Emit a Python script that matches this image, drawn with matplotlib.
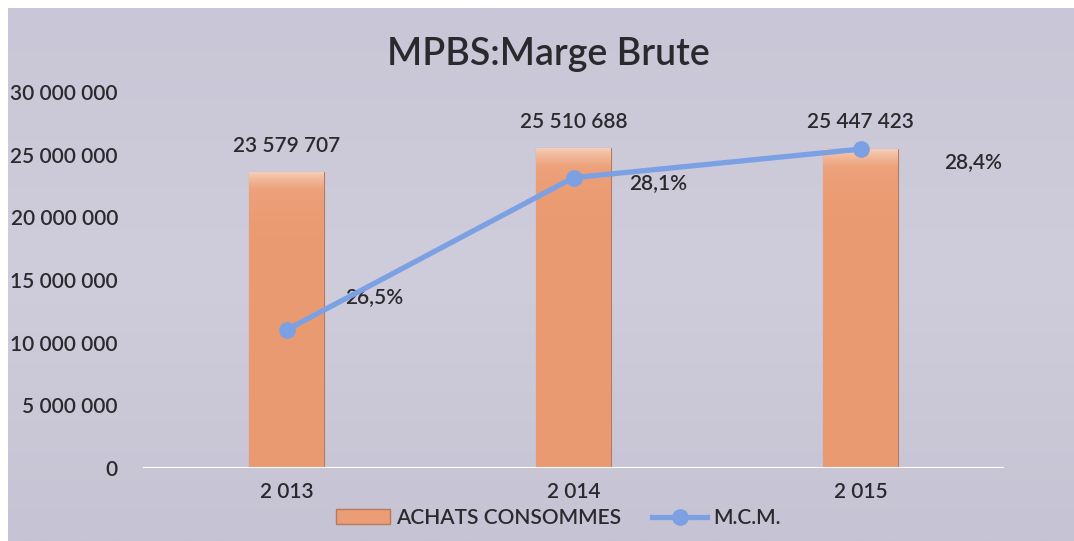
import matplotlib
matplotlib.use("Agg")
import matplotlib.pyplot as plt
import numpy as np
from matplotlib.ticker import FuncFormatter
from matplotlib.colors import LinearSegmentedColormap
from matplotlib.lines import Line2D
from matplotlib.patches import Patch

years = ["2 013", "2 014", "2 015"]
achats = [23579707, 25510688, 25447423]
achats_labels = ["23 579 707", "25 510 688", "25 447 423"]
mcm = [26.5, 28.1, 28.4]
mcm_labels = ["26,5%", "28,1%", "28,4%"]
yticks = [0, 5000000, 10000000, 15000000, 20000000, 25000000, 30000000]

plt.rcParams['font.family'] = ['Lato', 'DejaVu Sans']
plt.rcParams['font.weight'] = 'semibold'
TXT = '#2a2a2e'
W, H = 1074, 541
fig = plt.figure(figsize=(W/100, H/100), dpi=100, facecolor='white')

# chart background
bg = fig.add_axes([8/W, 0, 1 - 8/W, 1 - 8/H])
grad = np.linspace(0, 1, 256).reshape(-1, 1)
cmap_bg = LinearSegmentedColormap.from_list('bg', ['#c9c6d7', '#cfcddb', '#c6c3d4'])
bg.imshow(grad, aspect='auto', cmap=cmap_bg, extent=[0, 1, 0, 1])
bg.set_axis_off()

ax_l, ax_r = 143, 1004
ax_b, ax_t = 468, 92
ax = fig.add_axes([ax_l/W, 1 - ax_b/H, (ax_r-ax_l)/W, (ax_b-ax_t)/H])
ax.patch.set_alpha(0)
x = np.arange(len(years))
bars = ax.bar(x, achats, width=0.26, color='#eb9e76', edgecolor='#b87a5c', linewidth=0.8, zorder=2)
cmap_bar = LinearSegmentedColormap.from_list('bar', ['#ea9a70', '#eda27c', '#f5cdb5'])
for b in bars:
    bx, by = b.get_x(), b.get_y()
    bw, bh = b.get_width(), b.get_height()
    im = ax.imshow(np.linspace(0, 1, 200).reshape(-1, 1)[::-1] ** 12, aspect='auto', cmap=cmap_bar,
                   extent=[bx, bx + bw, by, by + bh], origin='upper', zorder=2.1)
    im.set_clip_path(b)
ax.set_xlim(-0.5, 2.5)
ax.set_ylim(0, 30000000)
ax.set_yticks(yticks)
ax.yaxis.set_major_formatter(FuncFormatter(lambda v, p: f"{int(v):,}".replace(",", " ")))
ax.set_xticks(x)
ax.set_xticklabels(years)
ax.tick_params(axis='both', length=0, labelsize=15, colors=TXT, pad=10)
ax.tick_params(axis='y', pad=18)
for s in ax.spines.values():
    s.set_visible(False)
ax.axhline(0, color='white', linewidth=1.5, zorder=3)
for xi, v, lab in zip(x, achats, achats_labels):
    ax.annotate(lab, (xi, v), xytext=(0, 12), textcoords='offset points', ha='center', va='bottom',
                fontsize=15, color=TXT)

ax2 = ax.twinx()
ax2.set_ylim(25.05, 29.0)
ax2.set_axis_off()
ax2.plot(x, mcm, color='#7ba0e4', linewidth=3.8, marker='o', markersize=11, zorder=4)
offsets = [(42, 24), (40, -4), (60, -9)]
for xi, v, lab, off in zip(x, mcm, mcm_labels, offsets):
    ax2.annotate(lab, (xi, v), xytext=off, textcoords='offset points', ha='left', va='center',
                 fontsize=15, color=TXT)

fig.text(548/W, 1 - 55/H, "MPBS:Marge Brute", ha='center', va='center', fontsize=27, color=TXT)

handles = [Patch(facecolor='#eb9e76', edgecolor='#b87a5c'),
           Line2D([0], [0], color='#7ba0e4', linewidth=3.8, marker='o', markersize=11)]
fig.legend(handles, ["ACHATS CONSOMMES", "M.C.M."], loc='center', bbox_to_anchor=(558/W, 1 - 518/H),
           ncol=2, frameon=False, fontsize=15, handlelength=2.6, handletextpad=0.3, columnspacing=1.5,
           labelcolor=TXT)

fig.savefig("out.png", dpi=100, facecolor='white')
